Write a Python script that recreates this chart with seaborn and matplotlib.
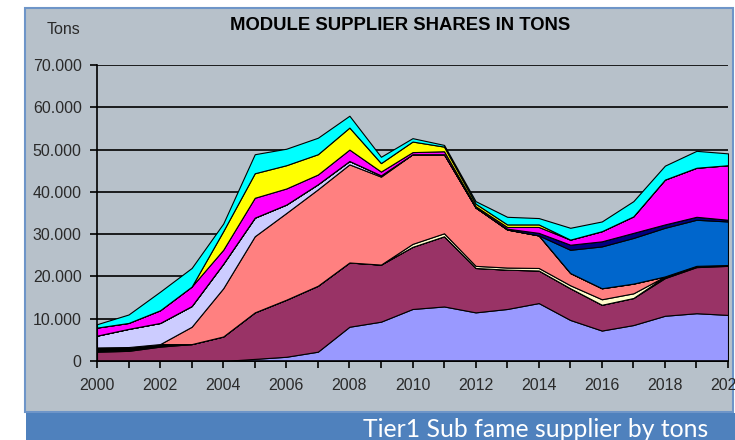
import matplotlib
matplotlib.use("Agg")
import matplotlib.pyplot as plt
import seaborn as sns
import pandas as pd
from matplotlib.patches import Rectangle
from matplotlib.ticker import FuncFormatter, MultipleLocator

#%% data (tons per supplier)
years = list(range(2000, 2021))

periwinkle = [0, 0, 0, 0, 0, 500, 1000, 2200, 8100, 9300, 12300, 12900, 11500, 12300, 13700, 9700, 7200, 8500, 10700, 11300, 10900]
maroon     = [2200, 2400, 3400, 4000, 5800, 11000, 13500, 15600, 15200, 13500, 14700, 16600, 10500, 9300, 7700, 7500, 6100, 6400, 8900, 10900, 11600]
black      = [1000, 900, 600, 0, 0, 0, 0, 0, 0, 0, 0, 0, 0, 0, 0, 0, 0, 0, 400, 300, 200]
cream      = [0, 0, 0, 0, 0, 0, 0, 0, 0, 0, 700, 700, 500, 500, 600, 700, 1300, 1100, 0, 0, 0]
salmon     = [0, 0, 0, 4100, 11400, 18000, 20500, 22800, 23200, 20800, 21200, 18700, 13800, 9000, 7700, 2900, 2600, 2300, 0, 0, 0]
lavender   = [2800, 4300, 5000, 4900, 5800, 4400, 2000, 1200, 800, 300, 0, 0, 0, 0, 0, 0, 0, 0, 0, 0, 0]
blue       = [0, 0, 0, 0, 0, 0, 0, 0, 0, 0, 0, 0, 0, 0, 0, 5500, 9900, 10800, 11500, 10900, 10300]
navy       = [0, 0, 0, 0, 0, 0, 0, 0, 0, 0, 0, 0, 0, 200, 600, 1200, 1200, 1200, 800, 700, 400]
magenta    = [1900, 1400, 3000, 4600, 3300, 4700, 3800, 2300, 2700, 900, 500, 700, 300, 400, 1400, 1200, 2400, 3900, 10600, 11600, 12900]
yellow     = [0, 0, 0, 0, 4400, 5800, 5500, 4800, 5200, 2000, 2500, 1100, 600, 600, 600, 0, 0, 0, 0, 0, 0]
cyan       = [800, 2000, 4400, 4400, 1800, 4500, 3900, 3900, 2800, 1500, 800, 400, 600, 1800, 1500, 2800, 2300, 3600, 3300, 4000, 2800]

series = [periwinkle, maroon, black, cream, salmon, lavender, blue, navy, magenta, yellow, cyan]
colors = ["#9999FF", "#993366", "#000000", "#FFFFCC", "#FF8080", "#CCCCFF",
          "#0066CC", "#000080", "#FF00FF", "#FFFF00", "#00FFFF"]

df = pd.DataFrame(dict(zip(range(len(series)), series)), index=years)

#%% plot
sns.set_style("white")
plt.rcParams['font.family'] = ['Liberation Sans', 'DejaVu Sans']

bg = "#B7C1CA"
fig = plt.figure(figsize=(7.35, 4.4), dpi=100)
fig.patch.set_facecolor("white")

# chart area + caption band
fig.patches.append(Rectangle((25 / 735, (440 - 412) / 440), 708 / 735, 404 / 440,
                             transform=fig.transFigure, facecolor=bg,
                             edgecolor="#6E95C8", lw=1.5, zorder=0))
fig.patches.append(Rectangle((26 / 735, 0), 709 / 735, 27 / 440,
                             transform=fig.transFigure, facecolor="#4F81BD",
                             edgecolor="none", zorder=0))

ax = fig.add_axes([97 / 735, (440 - 361) / 440, (728 - 97) / 735, (361 - 65) / 440])
ax.set_zorder(2)
ax.patch.set_alpha(0)

ax.stackplot(df.index, df.T.values, colors=colors, edgecolor="black", lw=0.8, zorder=2)

ax.set_xlim(2000, 2020)
ax.set_ylim(0, 70000)
ax.yaxis.set_major_locator(MultipleLocator(10000))
ax.xaxis.set_major_locator(MultipleLocator(2))
ax.xaxis.set_minor_locator(MultipleLocator(1))
ax.yaxis.set_major_formatter(FuncFormatter(lambda v, p: f"{int(v):,}".replace(",", ".")))
ax.grid(axis="y", color="black", lw=1.2, zorder=1)
ax.set_axisbelow(True)

for s in ["top", "right"]:
    ax.spines[s].set_visible(False)
for s in ["left", "bottom"]:
    ax.spines[s].set_color("black")
    ax.spines[s].set_linewidth(1.2)
    ax.spines[s].set_zorder(3)

ax.tick_params(axis="y", which="major", length=5, width=1.2, color="black",
               labelsize=11.5, labelcolor="#2A2A2A", pad=6, left=True)
ax.tick_params(axis="x", which="both", length=5, width=1.2, color="black",
               bottom=True, direction="out")
ax.tick_params(axis="x", which="major", labelsize=11.5, labelcolor="#2A2A2A", pad=7)

fig.text(47 / 735, 1 - 29 / 440, "Tons", fontsize=11.5, color="#2A2A2A", va="center")
fig.text(400 / 735, 1 - 25 / 440, "MODULE SUPPLIER SHARES IN TONS", fontsize=13.3,
         fontweight="bold", color="black", ha="center", va="center")
fig.text(708 / 735, 3 / 440, "Tier1 Sub fame supplier by tons", fontsize=17.8,
         color="white", ha="right", va="baseline", family=["Lato", "DejaVu Sans"])

fig.savefig("out.png", dpi=100)
